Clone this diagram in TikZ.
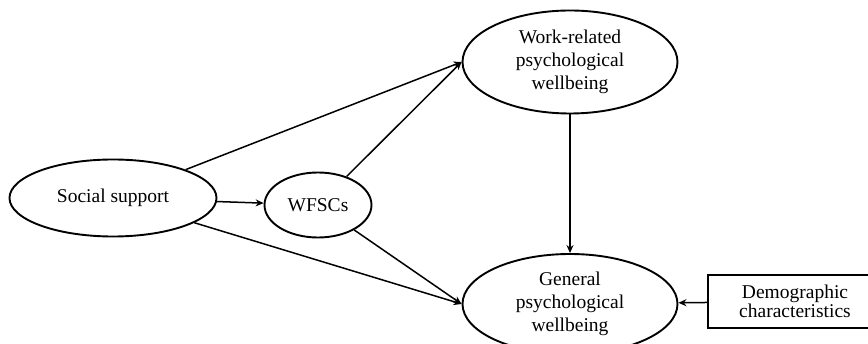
\documentclass[tikz,border=0pt]{standalone}
\usepackage{fontspec}
\setmainfont{Liberation Serif}
\usetikzlibrary{shapes.geometric,arrows.meta}

\begin{document}
\begin{tikzpicture}[x=1pt,y=-1pt,
    latent/.style={draw,ellipse,line width=1.9pt,inner sep=0pt,align=center,
        font=\fontsize{19.5}{23}\selectfont},
    observed/.style={draw,rectangle,line width=1.9pt,inner sep=0pt,align=center,
        font=\fontsize{19.5}{17}\selectfont},
    effect/.style={line width=1.5pt,-{Stealth[length=8pt,width=7pt]}}]
    \useasboundingbox (0,0) rectangle (868,344);
    % constructs
    \node[latent,minimum width=207pt,minimum height=77pt] (support) at (113,198) {Social support};
    \node[latent,minimum width=107pt,minimum height=65pt] (wfsc) at (318,205) {WFSCs};
    \node[latent,minimum width=215pt,minimum height=103pt] (work) at (570,62)
        {Work-related\\psychological\\wellbeing};
    \node[latent,minimum width=215pt,minimum height=100pt] (general) at (570,304)
        {General\\psychological\\wellbeing};
    \node[observed,minimum width=174pt,minimum height=53pt] (demo) at (795,301.5)
        {Demographic\\characteristics};
    % paths
    \draw[effect] (support) -- (work.west);
    \draw[effect] (support) -- (wfsc);
    \draw[effect] (support) -- (general.west);
    \draw[effect] (wfsc) -- (work.west);
    \draw[effect] (wfsc) -- (general.west);
    \draw[effect] (work) -- (general);
    \draw[effect] (demo) -- (general);
\end{tikzpicture}
\end{document}
